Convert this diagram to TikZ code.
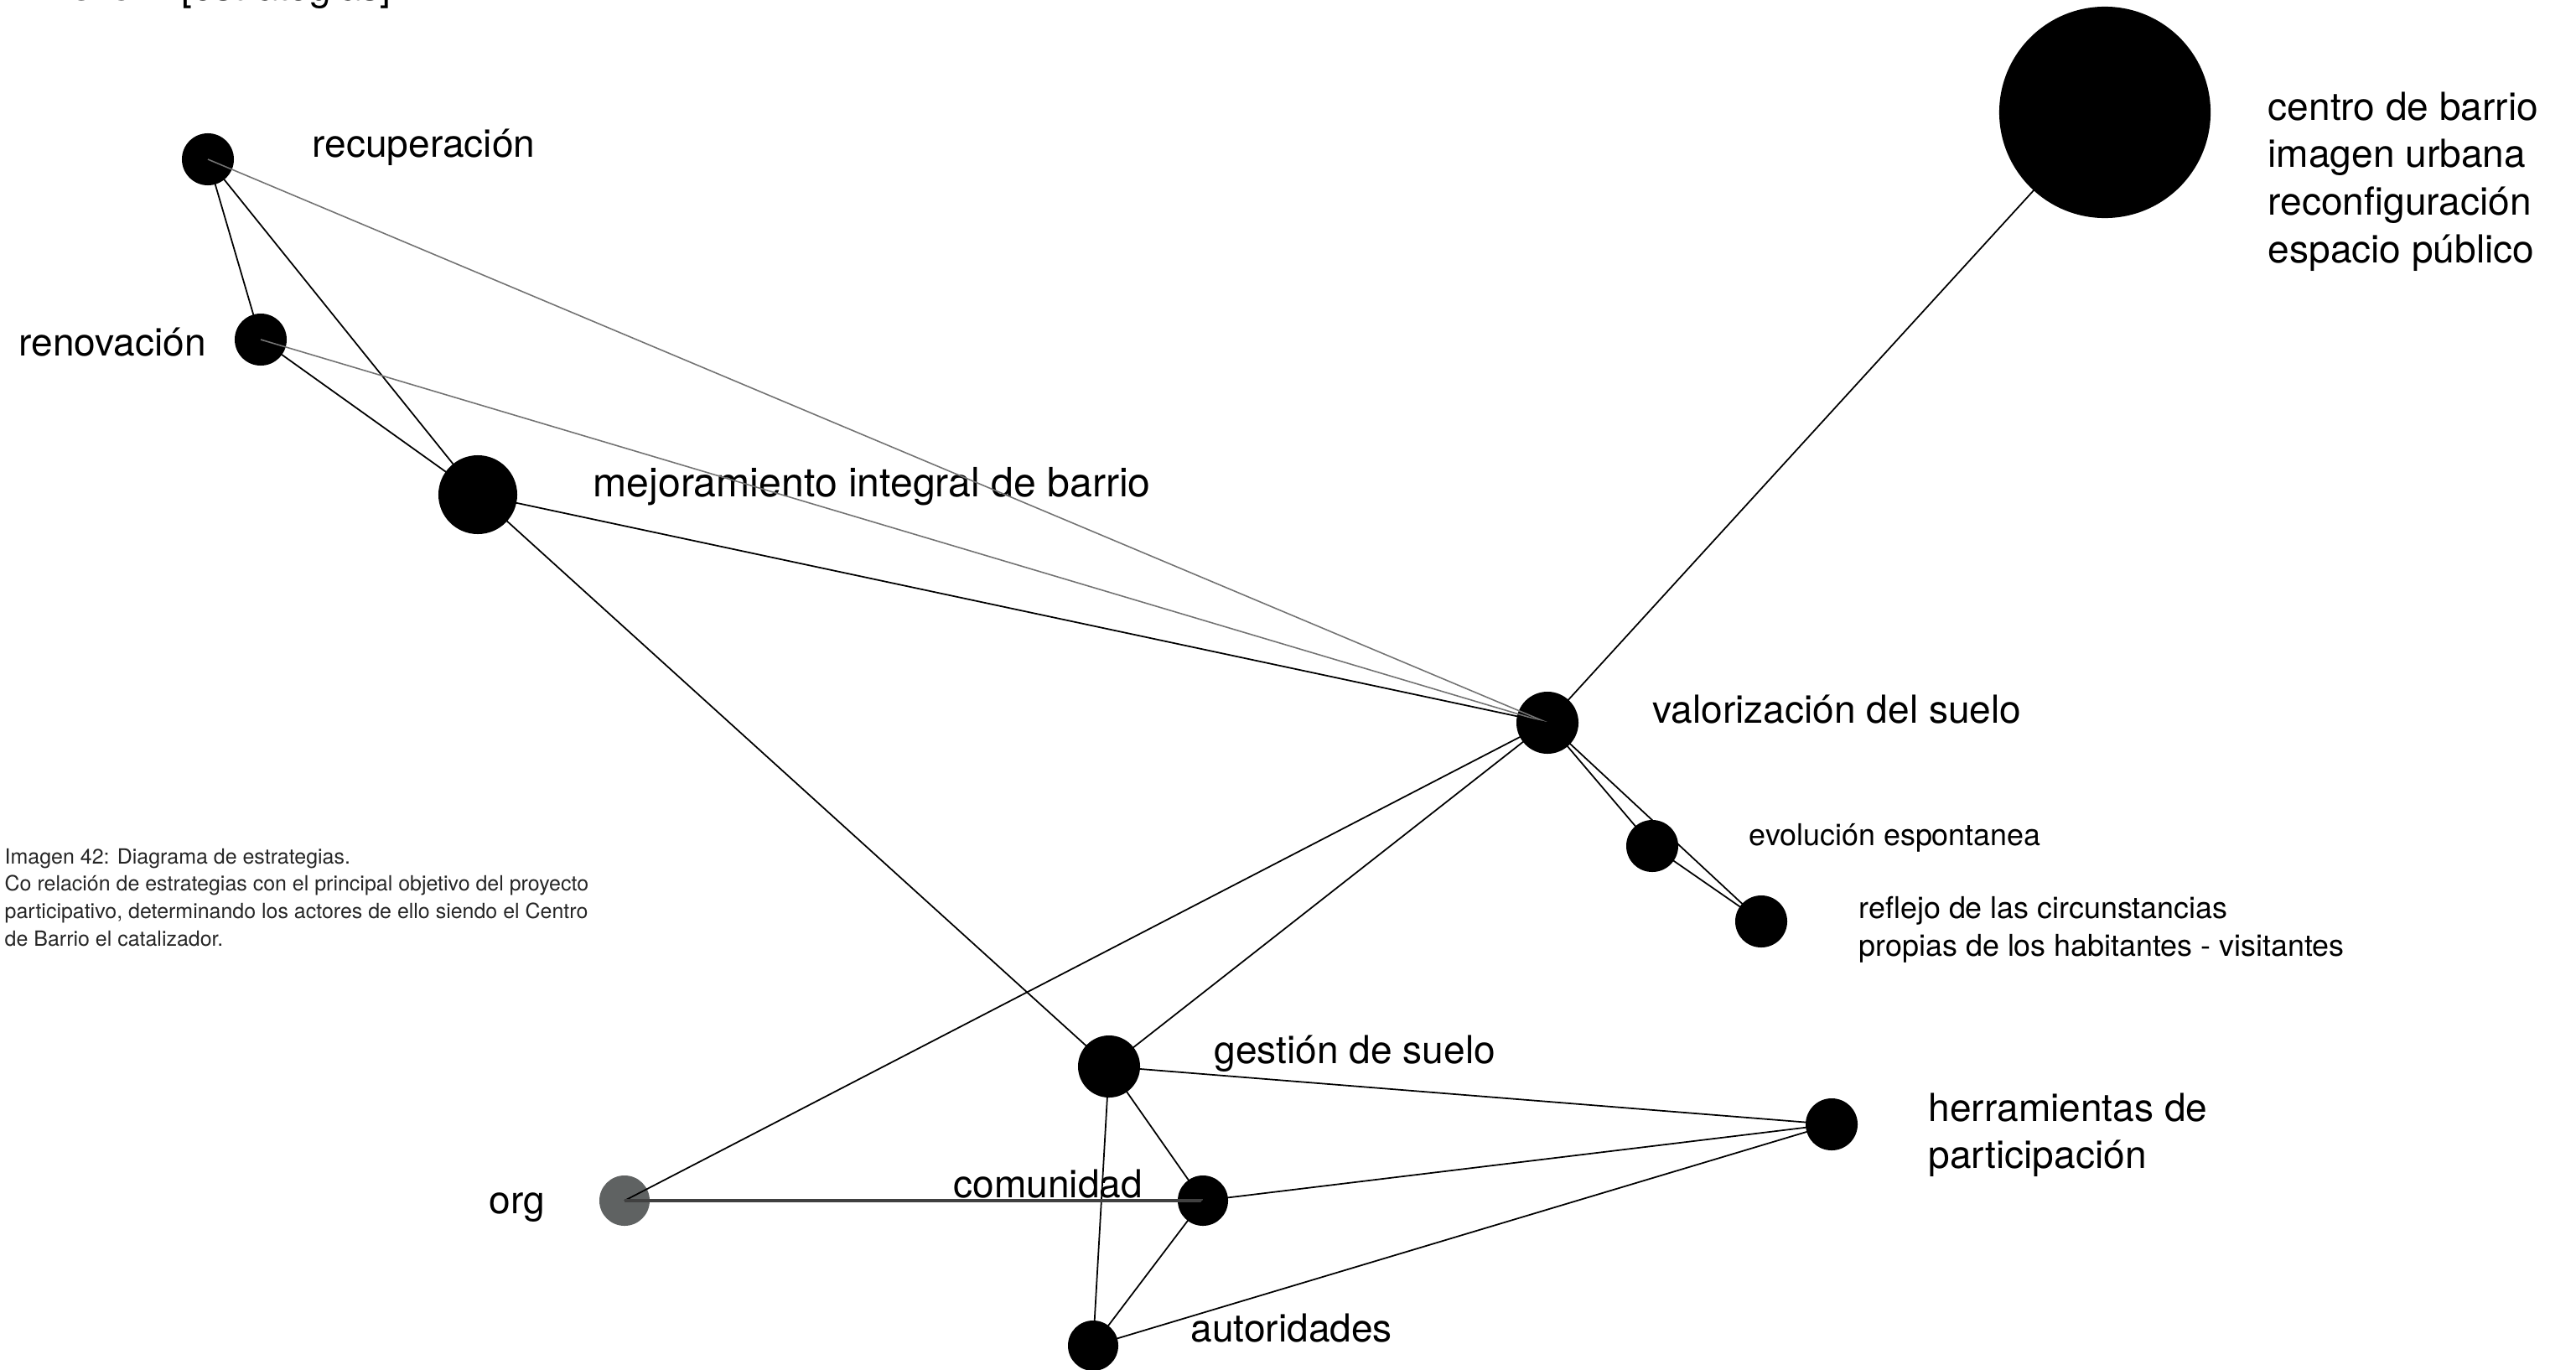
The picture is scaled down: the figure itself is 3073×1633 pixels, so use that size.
\documentclass[tikz,border=0pt]{standalone}
\usepackage{fontspec}
\setmainfont{TeX Gyre Heros}
\definecolor{orggray}{RGB}{95,98,98}

\begin{document}
\begin{tikzpicture}[x=0.01cm, y=-0.01cm,
	dot/.style={circle, fill=black, draw=none, inner sep=0pt},
	lab/.style={anchor=base west, inner sep=0pt, font=\fontsize{13.1pt}{16.2pt}\selectfont},
	lab small/.style={anchor=base west, inner sep=0pt, font=\fontsize{10.2pt}{12.8pt}\selectfont},
	link/.style={line width=0.5pt},
	link faint/.style={line width=0.45pt, black!55}]
		\useasboundingbox (0,0) rectangle (3073,1633);
		\node[anchor=base west, inner sep=0pt] (title) at (82,1) {{\fontsize{15.9pt}{18pt}\selectfont\bfseries 3.6.1} {\fontsize{13.1pt}{16pt}\selectfont [estrategias]}};
		\node[dot, minimum size=0.62cm] (recup) at (248,190) {};
		\node[dot, minimum size=0.62cm] (renov) at (311,405) {};
		\node[dot, minimum size=0.94cm] (mejor) at (570,590) {};
		\node[dot, minimum size=2.52cm] (centro) at (2511,134) {};
		\node[dot, minimum size=0.74cm] (valor) at (1846,862) {};
		\node[dot, minimum size=0.62cm] (evol) at (1971,1009) {};
		\node[dot, minimum size=0.62cm] (refl) at (2101,1099) {};
		\node[dot, minimum size=0.74cm] (gest) at (1323,1272) {};
		\node[dot, minimum size=0.62cm] (herr) at (2185,1341) {};
		\node[dot, minimum size=0.60cm, fill=orggray] (org) at (745,1432) {};
		\node[dot, minimum size=0.60cm] (comun) at (1435,1432) {};
		\node[dot, minimum size=0.60cm] (autor) at (1304,1605) {};
		\node[lab] (recup_l) at (372,187) {recuperación};
		\node[lab] (renov_l) at (22,424) {renovación};
		\node[lab, font=\fontsize{13.7pt}{16.2pt}\selectfont] (mejor_l) at (707,592) {mejoramiento integral de barrio};
		\node[lab] (centro_l) at (2705,143) {\begin{tabular}[t]{@{}l@{}}centro de barrio\\imagen urbana\\reconfiguración\\espacio público\end{tabular}};
		\node[lab] (valor_l) at (1971,862) {valorización del suelo};
		\node[lab small] (evol_l) at (2086,1008) {evolución espontanea};
		\node[lab small] (refl_l) at (2217,1095) {\begin{tabular}[t]{@{}l@{}}reflejo de las circunstancias\\propias de los habitantes - visitantes\end{tabular}};
		\node[lab] (gest_l) at (1448,1268) {gestión de suelo};
		\node[lab] (herr_l) at (2300,1337) {\begin{tabular}[t]{@{}l@{}}herramientas de\\participación\end{tabular}};
		\node[lab] (org_l) at (583,1447) {org};
		\node[lab] (comun_l) at (1137,1428) {comunidad};
		\node[lab] (autor_l) at (1420,1600) {autoridades};
		\node[anchor=base west, inner sep=0pt, text=black!85, font=\fontsize{7.1pt}{9.3pt}\selectfont] (caption) at (5,1030) {\begin{tabular}[t]{@{}l@{}}Imagen 42: Diagrama de estrategias.\\Co relación de estrategias con el principal objetivo del proyecto\\participativo, determinando los actores de ello siendo el Centro\\de Barrio el catalizador.\end{tabular}};
		\draw[link] (recup.center) -- (renov.center);
		\draw[link] (recup.center) -- (mejor.center);
		\draw[link faint] (recup.center) -- (valor.center);
		\draw[link] (renov.center) -- (mejor.center);
		\draw[link faint] (renov.center) -- (valor.center);
		\draw[link] (mejor.center) -- (valor.center);
		\draw[link] (mejor.center) -- (gest.center);
		\draw[link] (centro.center) -- (valor.center);
		\draw[link] (valor.center) -- (evol.center);
		\draw[link] (valor.center) -- (refl.center);
		\draw[link] (evol.center) -- (refl.center);
		\draw[link] (valor.center) -- (gest.center);
		\draw[link] (valor.center) -- (org.center);
		\draw[link] (gest.center) -- (herr.center);
		\draw[link] (gest.center) -- (comun.center);
		\draw[link] (gest.center) -- (autor.center);
		\draw[line width=0.9pt, black!75] (org.center) -- (comun.center);
		\draw[link] (comun.center) -- (herr.center);
		\draw[link] (comun.center) -- (autor.center);
		\draw[link] (autor.center) -- (herr.center);
	\end{tikzpicture}
\end{document}
